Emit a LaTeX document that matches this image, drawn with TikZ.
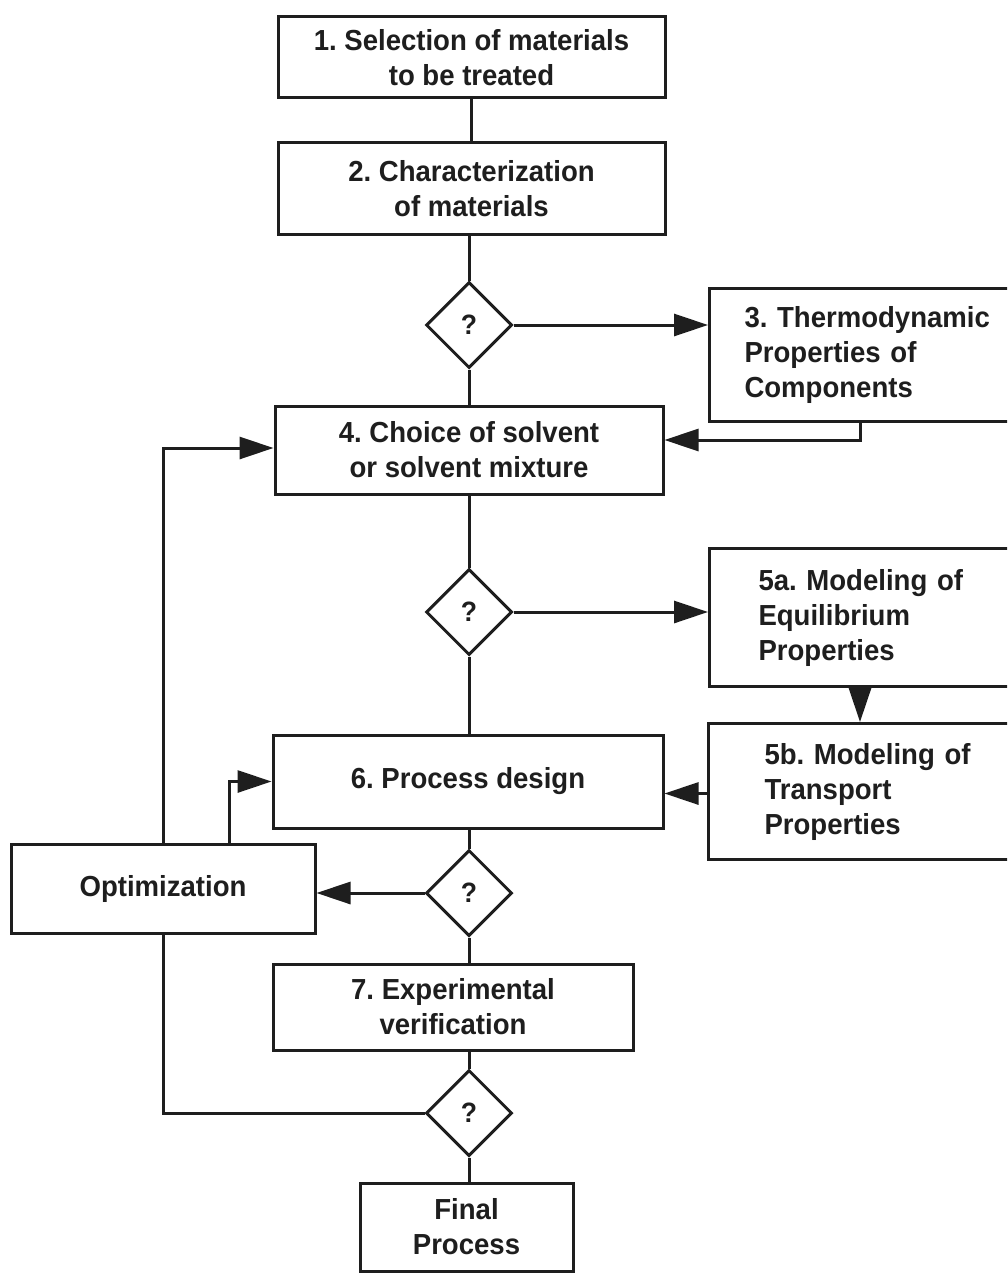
\documentclass[tikz,border=0pt]{standalone}
\usepackage{fontspec}
\setmainfont{Liberation Sans}
\newfontfamily\lblfont[FakeStretch=0.95]{Liberation Sans}
\usetikzlibrary{shapes.geometric,arrows.meta}
\definecolor{ink}{HTML}{1E1E1E}
\frenchspacing
\tikzset{
  lbl/.style={font=\lblfont\bfseries\fontsize{29}{35}\selectfont, text=ink},
  box/.style={draw=ink, line width=3pt, lbl, align=center, inner sep=0pt},
  sidebox/.style={draw=ink, line width=3pt, lbl, align=left, anchor=north west, inner ysep=0pt},
  qdia/.style={draw=ink, line width=3pt, diamond, aspect=1, minimum width=86pt, minimum height=86pt, inner sep=0pt, lbl, font=\lblfont\bfseries\fontsize{28}{32}\selectfont},
  conn/.style={draw=ink, line width=3pt},
  arr/.style={conn, -{Triangle[length=34pt,width=22pt]}}
}
\begin{document}
\begin{tikzpicture}[x=1pt,y=-1pt]
\useasboundingbox (0,0) rectangle (1007,1273);
\fill[white] (0,0) rectangle (1007,1273);
\clip (0,0) rectangle (1007,1273);

% boxes
\node[box, minimum width=387pt, minimum height=81pt] (b1) at (471.5,57.5) {1. Selection of materials\\to be treated};
\node[box, minimum width=387pt, minimum height=92pt] (b2) at (471.5,189) {2. Characterization\\of materials};
\node[sidebox, inner xsep=35pt, text width=280pt, minimum height=133pt] (b3) at (708,287) {3. Thermodynamic\\Properties of\\Components};
\node[box, minimum width=388pt, minimum height=88pt] (b4) at (469,450) {4. Choice of solvent\\or solvent mixture};
\node[sidebox, inner xsep=49pt, text width=260pt, minimum height=138pt] (b5a) at (708,547) {5a. Modeling of\\Equilibrium\\Properties};
\node[sidebox, inner xsep=56pt, text width=260pt, minimum height=136pt] (b5b) at (707,722) {5b. Modeling of\\Transport\\Properties};
\node[box, minimum width=390pt, minimum height=93pt] (b6) at (468,781.5) {6. Process design};
\node[box, minimum width=304pt, minimum height=89pt] (opt) at (163,888.5) {Optimization};
\node[box, minimum width=360pt, minimum height=86pt] (b7) at (453,1007) {7. Experimental\\verification};
\node[box, minimum width=213pt, minimum height=88pt] (fin) at (466.5,1227) {Final\\Process};

% decisions
\node[qdia] (d1) at (469,325) {?};
\node[qdia] (d2) at (469,612) {?};
\node[qdia] (d3) at (469,893) {?};
\node[qdia] (d4) at (469,1113) {?};

% connectors
\draw[conn] (b1.south) -- (b2.north);
\draw[conn] (b2.south -| d1.north) -- (d1.north);
\draw[arr] (d1.east) -- (d1.east -| b3.west);
\draw[conn] (d1.south) -- (d1.south |- b4.north);
\draw[arr] ([xshift=152pt]b3.south west) |- ([yshift=10pt]b4.east);
\draw[conn] (b4.south -| d2.north) -- (d2.north);
\draw[arr] (d2.east) -- (d2.east -| b5a.west);
\draw[arr] ([xshift=152pt]b5a.south west) -- ([xshift=152pt]b5a.south west |- b5b.north);
\draw[arr] ([yshift=-2pt]b5b.west) -- ([yshift=-2pt]b5b.west -| b6.east);
\draw[conn] (d2.south) -- (d2.south |- b6.north);
\draw[conn] (b6.south -| d3.north) -- (d3.north);
\draw[arr] (d3.west) -- (d3.west -| opt.east);
\draw[arr] (opt.north) |- ([yshift=2pt]b4.west);
\draw[arr] ([xshift=66pt]opt.north) |- (b6.west);
\draw[conn] (d3.south) -- (d3.south |- b7.north);
\draw[conn] (b7.south -| d4.north) -- (d4.north);
\draw[conn] (d4.west) -| (opt.south);
\draw[conn] (d4.south) -- (d4.south |- fin.north);
\end{tikzpicture}
\end{document}
